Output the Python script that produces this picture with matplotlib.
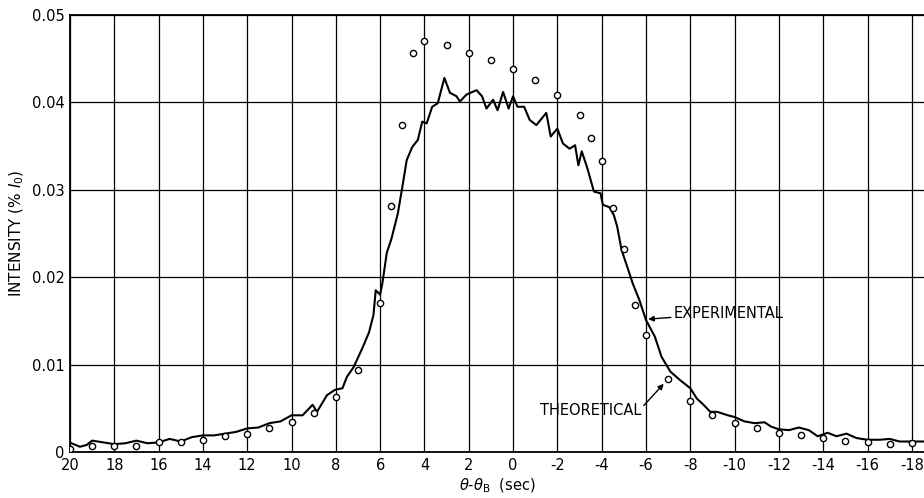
import matplotlib
matplotlib.use("Agg")
import matplotlib.pyplot as plt

plt.rcParams['font.family'] = ['DejaVu Sans']
plt.rcParams['axes.unicode_minus'] = False

# experimental trace
exp_x = [20, 19.55, 19.25, 19.0, 18.5, 18.0, 17.5, 17.0, 16.5, 16.0, 15.5, 15.0,
         14.5, 14.0, 13.5, 13.0, 12.5, 12.0, 11.5, 11.0, 10.5, 10.0, 9.5, 9.05,
         8.85, 8.4, 8.05, 7.7, 7.5, 7.2, 6.8, 6.5, 6.3, 6.2, 6.0, 5.9, 5.7, 5.5,
         5.2, 5.0, 4.8, 4.55, 4.3, 4.1, 3.9, 3.65, 3.4, 3.1, 2.85, 2.55, 2.4, 2.1,
         1.65, 1.4, 1.2, 0.9, 0.7, 0.45, 0.2, 0.0, -0.2, -0.5, -0.75, -1.05, -1.5,
         -1.7, -2.0, -2.25, -2.55, -2.8, -2.95, -3.1, -3.35, -3.65, -3.95, -4.05,
         -4.35, -4.55, -4.7, -4.9, -5.1, -5.4, -5.7, -6.0, -6.4, -6.7, -7.1, -7.55,
         -8.0, -8.3, -8.6, -8.9, -9.2, -9.7, -10.0, -10.45, -10.9, -11.35, -11.65,
         -12.0, -12.45, -12.9, -13.35, -13.75, -14.2, -14.6, -15.05, -15.5, -16.0,
         -16.55, -17.0, -17.45, -18.05, -18.6]
exp_y = [0.00107, 0.0006, 0.0008, 0.0013, 0.0011, 0.0009, 0.0010, 0.0013, 0.0010,
         0.0011, 0.0015, 0.0012, 0.0017, 0.0019, 0.0019, 0.0021, 0.0023, 0.0027,
         0.0028, 0.0033, 0.0035, 0.0042, 0.0042, 0.0054, 0.0046, 0.0065, 0.0071,
         0.0073, 0.0086, 0.0097, 0.0119, 0.0137, 0.0157, 0.0185, 0.0180, 0.0193,
         0.0228, 0.0243, 0.0273, 0.0303, 0.0334, 0.0349, 0.0357, 0.0378, 0.0376,
         0.0395, 0.0399, 0.0428, 0.0411, 0.0407, 0.0401, 0.0409, 0.0414, 0.0407,
         0.0393, 0.0403, 0.0391, 0.0412, 0.0393, 0.0407, 0.0395, 0.0395, 0.0380,
         0.0374, 0.0388, 0.0361, 0.0370, 0.0353, 0.0347, 0.0351, 0.0328, 0.0344,
         0.0325, 0.0298, 0.0296, 0.0283, 0.0280, 0.0271, 0.0258, 0.0231, 0.0216,
         0.0193, 0.0174, 0.0151, 0.0132, 0.0109, 0.0092, 0.0082, 0.0073, 0.0061,
         0.0054, 0.0046, 0.0046, 0.0042, 0.0040, 0.0035, 0.0033, 0.0034, 0.0029,
         0.0026, 0.0025, 0.0028, 0.0025, 0.0018, 0.0022, 0.0018, 0.0021, 0.0016,
         0.0014, 0.0014, 0.0015, 0.0012, 0.0012, 0.0012]

# theoretical points
th_x = [20, 19, 18, 17, 16, 15, 14, 13, 12, 11, 10, 9, 8, 7, 6, 5.5, 5, 4.5, 4,
        3, 2, 1, 0, -1, -2, -3, -3.5, -4, -4.5, -5, -5.5, -6, -7, -8, -9, -10,
        -11, -12, -13, -14, -15, -16, -17, -18]
th_y = [0.0004, 0.0007, 0.0007, 0.0007, 0.0011, 0.0011, 0.0014, 0.0018, 0.0021,
        0.0027, 0.0034, 0.0045, 0.0063, 0.0094, 0.0170, 0.0281, 0.0374, 0.0457,
        0.0470, 0.0466, 0.0457, 0.0448, 0.0438, 0.0426, 0.0409, 0.0386, 0.0359,
        0.0333, 0.0279, 0.0232, 0.0168, 0.0134, 0.0083, 0.0058, 0.0042, 0.0033,
        0.0028, 0.0022, 0.0019, 0.0016, 0.0013, 0.0011, 0.0009, 0.0010]

x_ticks = list(range(20, -19, -2))
y_ticks = [0, 0.01, 0.02, 0.03, 0.04, 0.05]
y_labels = ["0", "0.01", "0.02", "0.03", "0.04", "0.05"]

fig = plt.figure(figsize=(9.24, 4.98), dpi=100)
ax = fig.add_axes([70/924, 46/498, 1 - 70/924, 437/498])

ax.plot(exp_x, exp_y, color='black', lw=1.5, zorder=3)
ax.plot(th_x, th_y, 'o', mfc='white', mec='black', ms=4.5, mew=1.0, zorder=4)

ax.set_xlim(20, -18.55)
ax.set_ylim(0, 0.05)
ax.set_xticks(x_ticks)
ax.set_xticklabels([str(v) for v in x_ticks])
ax.set_yticks(y_ticks)
ax.set_yticklabels(y_labels)
ax.tick_params(length=0, labelsize=10.5, pad=4)
ax.grid(True, color='black', lw=0.9)
ax.set_axisbelow(True)
for s in ['left', 'bottom', 'top']:
    ax.spines[s].set_linewidth(1.3)
ax.spines['right'].set_visible(False)

ax.set_xlabel(r"$\theta$-$\theta_{\rm B}$  (sec)", fontsize=10.5, labelpad=3)
ax.set_ylabel(r"INTENSITY (% $I_0$)", fontsize=11)
ax.yaxis.set_label_coords(-0.052, 0.5)

ax.annotate("EXPERIMENTAL", xy=(-6.1, 0.0152), xytext=(-7.25, 0.0159),
            fontsize=10.5, va='center', ha='left',
            arrowprops=dict(arrowstyle='-|>', color='black', lw=1.0,
                            mutation_scale=8, shrinkA=0, shrinkB=0))
ax.annotate("THEORETICAL", xy=(-6.8, 0.0078), xytext=(-1.2, 0.0048),
            fontsize=10.5, va='center', ha='left',
            arrowprops=dict(arrowstyle='-|>', color='black', lw=1.0,
                            mutation_scale=8, shrinkA=0, shrinkB=0,
                            relpos=(1.0, 0.6)))

fig.savefig("out.png", dpi=100)
